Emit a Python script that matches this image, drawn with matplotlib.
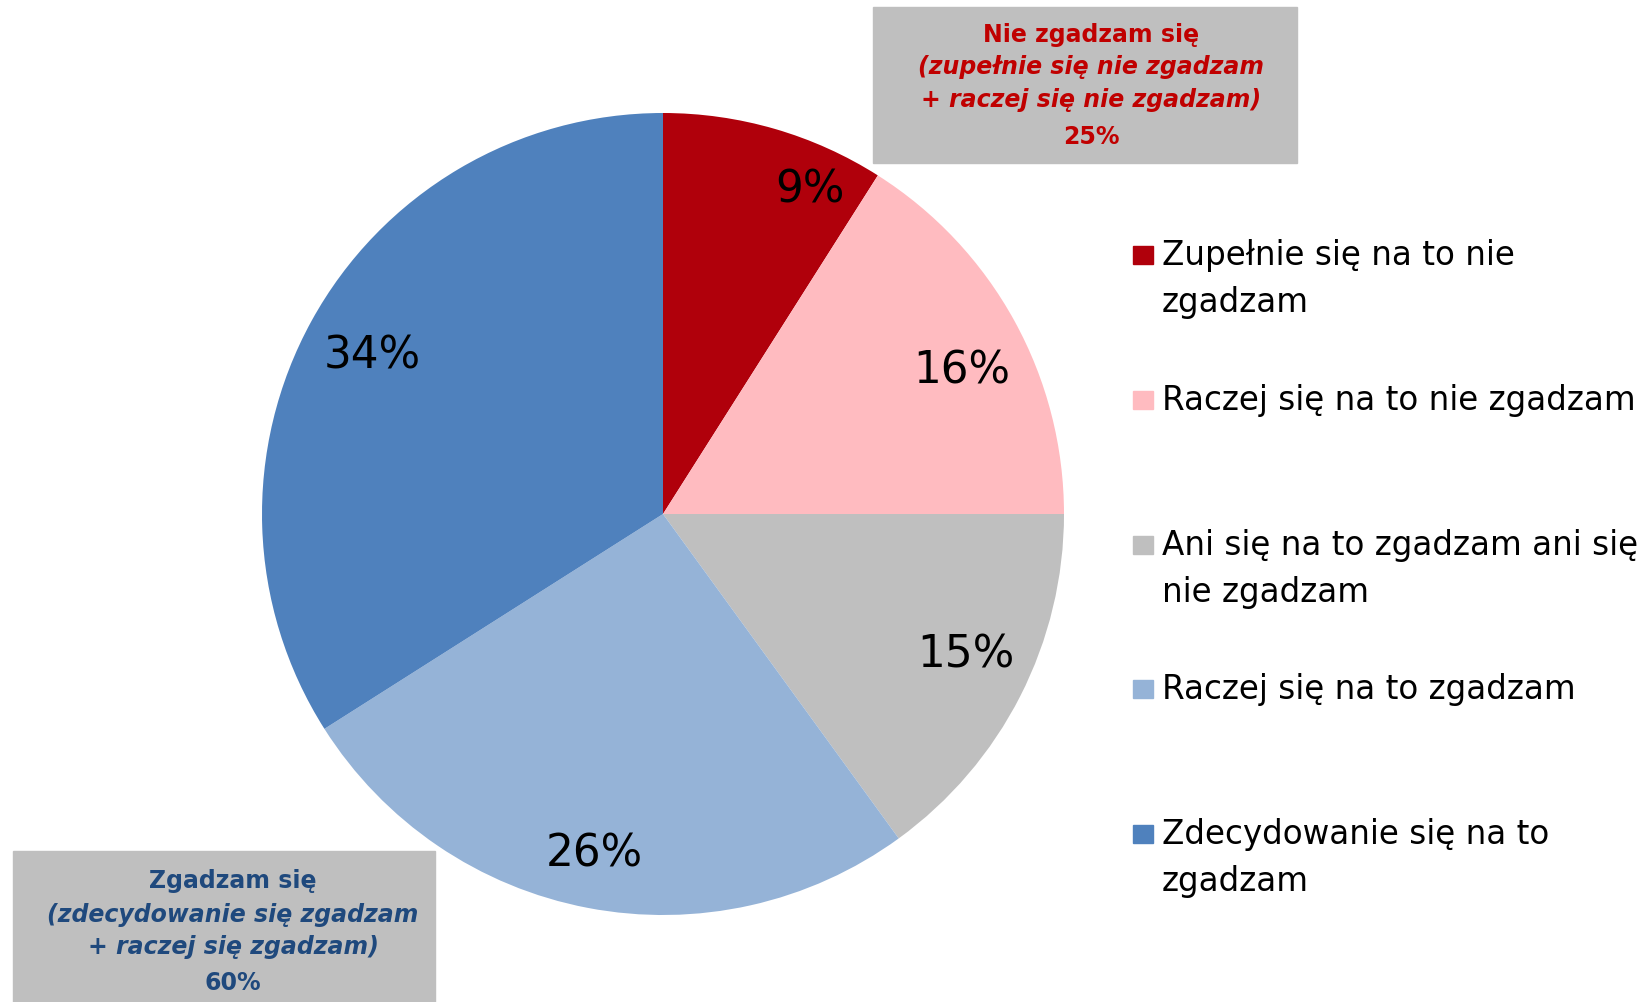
import matplotlib.pyplot as plt
from matplotlib.patches import Rectangle

# data
labels = ["Zupełnie się na to nie\nzgadzam",
          "Raczej się na to nie zgadzam",
          "Ani się na to zgadzam ani się\nnie zgadzam",
          "Raczej się na to zgadzam",
          "Zdecydowanie się na to\nzgadzam"]
values = [9, 16, 15, 26, 34]
colors = ["#B0000B", "#FFBBC0", "#BFBFBF", "#95B3D7", "#4F81BD"]

disagree_lines = ["Nie zgadzam się", "(zupełnie się nie zgadzam",
                  "+ raczej się nie zgadzam)", "25%"]
agree_lines = ["Zgadzam się", "(zdecydowanie się zgadzam",
               "+ raczej się zgadzam)", "60%"]

# small nudges of the percent labels (px), like Excel's best fit
nudge = [(52, -3), (0, -21), (-1, 14), (-5, -5), (8, -6)]

W, H = 1645, 1002
fig = plt.figure(figsize=(W / 100, H / 100), dpi=100)
ax = fig.add_axes([0, 0, 1, 1])

wedges, texts, autotexts = ax.pie(
    values, colors=colors, startangle=90, counterclock=False,
    center=(663, H - 514), radius=401, frame=True,
    autopct="%d%%", pctdistance=0.85,
    wedgeprops=dict(linewidth=0),
    textprops=dict(fontsize=31.5, color="black"))
for t, (dx, dy) in zip(autotexts, nudge):
    x, y = t.get_position()
    t.set_position((x + dx, y + dy))
ax.set_xlim(0, W)
ax.set_ylim(0, H)
ax.set_aspect("equal")
ax.axis("off")

# legend, drawn by hand so the square sits on the first line
leg_y = [255, 400, 545, 689, 834]
for lab, col, y in zip(labels, colors, leg_y):
    ax.add_patch(Rectangle((1133, H - y - 9), 20, 18, color=col))
    ax.text(1162, H - y + 16, lab, fontsize=23.5, va="top", ha="left",
            linespacing=1.55)

# summary boxes
ax.add_patch(Rectangle((873, H - 163), 424, 156, color="#BFBFBF", zorder=3))
ax.add_patch(Rectangle((13, 0), 422, H - 851, color="#BFBFBF", zorder=3))

def box_text(x, ys, lines, col):
    for i, (y, t) in enumerate(zip(ys, lines)):
        style = "italic" if i in (1, 2) else "normal"
        ax.text(x, H - y, t, fontsize=17, fontweight="bold", fontstyle=style,
                color=col, ha="center", va="center", zorder=4)

box_text(1091, [35, 67, 100, 137], disagree_lines, "#C00000")
box_text(233, [881, 915, 947, 983], agree_lines, "#1F497D")

fig.savefig("out.png", dpi=100)
